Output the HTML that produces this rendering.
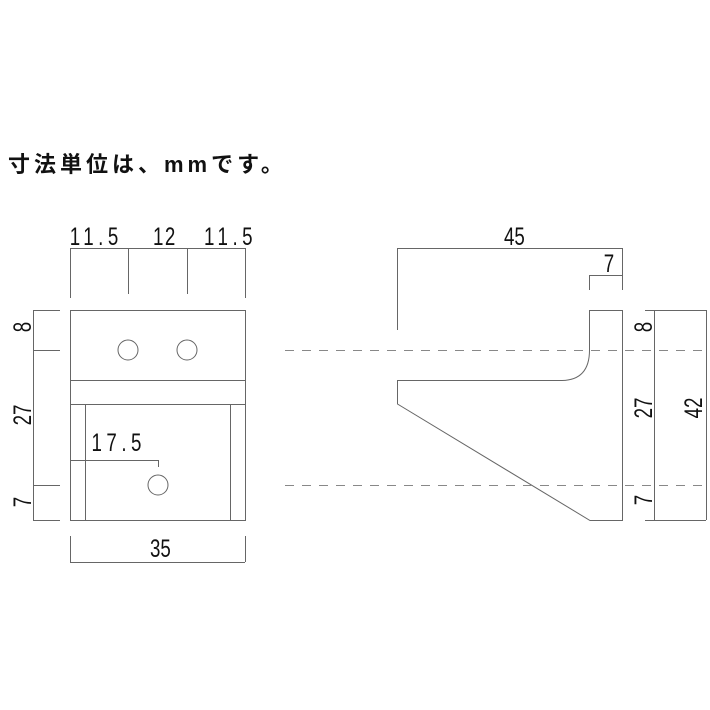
<!DOCTYPE html>
<html><head><meta charset="utf-8"><style>
html,body{margin:0;padding:0;background:#fff;width:710px;height:710px;overflow:hidden}
svg text{font-family:"Liberation Sans","Noto Sans CJK JP",sans-serif;fill:#111}
</style></head><body>
<svg width="710" height="710" viewBox="0 0 710 710" xmlns="http://www.w3.org/2000/svg">
<text x="8" y="172" font-size="22" font-family="'Noto Sans CJK JP',sans-serif" letter-spacing="4" font-weight="bold">寸法単位は、mmです。</text>
<g stroke="#666" stroke-width="1" fill="none">
<rect x="70.5" y="310.5" width="175" height="210"/>
<line x1="70" y1="380.5" x2="245" y2="380.5"/>
<line x1="70" y1="404.5" x2="245" y2="404.5"/>
<line x1="85.5" y1="404" x2="85.5" y2="520"/>
<line x1="230.5" y1="404" x2="230.5" y2="520"/>
<circle cx="128" cy="350" r="10"/>
<circle cx="187" cy="350" r="10"/>
<circle cx="158" cy="485" r="10"/>
<line x1="70.5" y1="248.5" x2="245.5" y2="248.5"/>
<line x1="70.5" y1="248" x2="70.5" y2="298"/>
<line x1="128.5" y1="248" x2="128.5" y2="294"/>
<line x1="187.5" y1="248" x2="187.5" y2="294"/>
<line x1="245.5" y1="248" x2="245.5" y2="298"/>
<line x1="33.5" y1="310" x2="33.5" y2="520"/>
<line x1="33" y1="310.5" x2="60" y2="310.5"/>
<line x1="33" y1="350.5" x2="60" y2="350.5"/>
<line x1="33" y1="485.5" x2="60" y2="485.5"/>
<line x1="33" y1="520.5" x2="60" y2="520.5"/>
<line x1="70" y1="460.5" x2="158" y2="460.5"/>
<line x1="158.5" y1="460" x2="158.5" y2="467"/>
<line x1="70.5" y1="536" x2="70.5" y2="562"/>
<line x1="245.5" y1="536" x2="245.5" y2="562"/>
<line x1="70" y1="562.5" x2="245" y2="562.5"/>
<line x1="397.5" y1="248.5" x2="622.5" y2="248.5"/>
<line x1="397.5" y1="248" x2="397.5" y2="330"/>
<line x1="622.5" y1="248" x2="622.5" y2="290"/>
<line x1="589.5" y1="275.5" x2="622.5" y2="275.5"/>
<line x1="589.5" y1="275" x2="589.5" y2="290"/>
<path d="M589.5 310.5 H622.5 V520.5 H590 L397.5 404 V380.5 H562 Q589.5 380 589.5 350 Z"/>
<line x1="654.5" y1="310" x2="654.5" y2="520"/>
<line x1="706.5" y1="310" x2="706.5" y2="520"/>
<line x1="645" y1="310.5" x2="706" y2="310.5"/>
<line x1="645" y1="520.5" x2="706" y2="520.5"/>
</g>
<g stroke="#888" stroke-width="1" stroke-dasharray="9,8">
<line x1="285" y1="350.5" x2="710" y2="350.5"/>
<line x1="285" y1="485.5" x2="710" y2="485.5"/>
</g>
<g font-size="25">
<g transform="scale(0.75,1)">
<text x="93" y="245" letter-spacing="6">11.5</text>
<text x="204" y="245" letter-spacing="2">12</text>
<text x="272" y="245" letter-spacing="6">11.5</text>
<text x="122" y="451" letter-spacing="6">17.5</text>
<text x="200" y="557">35</text>
<text x="672" y="245">45</text>
<text x="805" y="272">7</text>
</g>
<g transform="translate(31,327) rotate(-90) scale(0.75,1)"><text x="0" y="0" text-anchor="middle">8</text></g>
<g transform="translate(31,415) rotate(-90) scale(0.75,1)"><text x="0" y="0" text-anchor="middle">27</text></g>
<g transform="translate(31,502) rotate(-90) scale(0.75,1)"><text x="0" y="0" text-anchor="middle">7</text></g>
<g transform="translate(652,327) rotate(-90) scale(0.75,1)"><text x="0" y="0" text-anchor="middle">8</text></g>
<g transform="translate(652,408) rotate(-90) scale(0.75,1)"><text x="0" y="0" text-anchor="middle">27</text></g>
<g transform="translate(652,500) rotate(-90) scale(0.75,1)"><text x="0" y="0" text-anchor="middle">7</text></g>
<g transform="translate(702,408) rotate(-90) scale(0.75,1)"><text x="0" y="0" text-anchor="middle">42</text></g>
</g>
</svg>
</body></html>
